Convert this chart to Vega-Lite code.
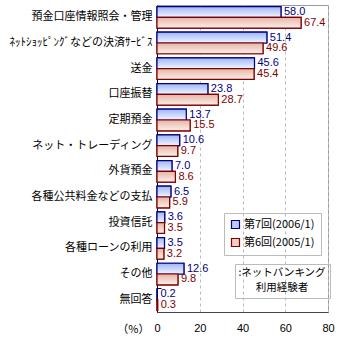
{
"$schema": "https://vega.github.io/schema/vega-lite/v6.json",
"width": 171, "height": 307, "autosize": "none",
"padding": {"left": 157, "top": 5, "right": 12, "bottom": 28},
"config": {"view": {"stroke": "#999"}, "font": "Noto Sans CJK JP"},
"data": {"values": [
{"item": "預金口座情報照会・管理", "series": "第7回(2006/1)", "value": 58.0},
{"item": "預金口座情報照会・管理", "series": "第6回(2005/1)", "value": 67.4},
{"item": "ﾈｯﾄｼｮｯﾋﾟﾝｸﾞなどの決済ｻｰﾋﾞｽ", "series": "第7回(2006/1)", "value": 51.4},
{"item": "ﾈｯﾄｼｮｯﾋﾟﾝｸﾞなどの決済ｻｰﾋﾞｽ", "series": "第6回(2005/1)", "value": 49.6},
{"item": "送金", "series": "第7回(2006/1)", "value": 45.6},
{"item": "送金", "series": "第6回(2005/1)", "value": 45.4},
{"item": "口座振替", "series": "第7回(2006/1)", "value": 23.8},
{"item": "口座振替", "series": "第6回(2005/1)", "value": 28.7},
{"item": "定期預金", "series": "第7回(2006/1)", "value": 13.7},
{"item": "定期預金", "series": "第6回(2005/1)", "value": 15.5},
{"item": "ネット・トレーディング", "series": "第7回(2006/1)", "value": 10.6},
{"item": "ネット・トレーディング", "series": "第6回(2005/1)", "value": 9.7},
{"item": "外貨預金", "series": "第7回(2006/1)", "value": 7.0},
{"item": "外貨預金", "series": "第6回(2005/1)", "value": 8.6},
{"item": "各種公共料金などの支払", "series": "第7回(2006/1)", "value": 6.5},
{"item": "各種公共料金などの支払", "series": "第6回(2005/1)", "value": 5.9},
{"item": "投資信託", "series": "第7回(2006/1)", "value": 3.6},
{"item": "投資信託", "series": "第6回(2005/1)", "value": 3.5},
{"item": "各種ローンの利用", "series": "第7回(2006/1)", "value": 3.5},
{"item": "各種ローンの利用", "series": "第6回(2005/1)", "value": 3.2},
{"item": "その他", "series": "第7回(2006/1)", "value": 12.6},
{"item": "その他", "series": "第6回(2005/1)", "value": 9.8},
{"item": "無回答", "series": "第7回(2006/1)", "value": 0.2},
{"item": "無回答", "series": "第6回(2005/1)", "value": 0.3}
]},
"encoding": {
  "y": {"field": "item", "type": "nominal", "sort": null,
    "scale": {"paddingInner": 0.16, "paddingOuter": 0.06},
    "axis": {"title": null, "bandPosition": 0, "tickSize": -4, "tickColor": "#000", "domainColor": "#000", "labelPadding": 9, "labelFontSize": 11, "labelColor": "#000", "labelFont": "Noto Sans CJK JP", "labelLimit": 200}},
  "yOffset": {"field": "series", "type": "nominal", "sort": ["第7回(2006/1)", "第6回(2005/1)"], "scale": {"paddingInner": 0, "paddingOuter": 0}},
  "x": {"field": "value", "type": "quantitative", "scale": {"domain": [0, 80], "nice": false},
    "axis": {"values": [0, 20, 40, 60, 80], "title": "（%）", "titleX": -8, "titleY": 11, "titleAlign": "right", "titleBaseline": "top", "titleFontWeight": "normal", "titleFontSize": 11, "titleColor": "#000", "ticks": false, "labelPadding": 10, "labelFontSize": 11, "labelColor": "#000", "labelFont": "Liberation Sans", "domainColor": "#444", "gridColor": "#bbb", "gridDash": [3, 3], "labelFlush": false}}
},
"layer": [
  {"mark": {"type": "bar", "strokeWidth": 1.2},
   "encoding": {
     "fill": {"field": "series", "type": "nominal", "scale": {"domain": ["第7回(2006/1)", "第6回(2005/1)"], "range": ["#bccbf4", "#f0cfc4"]},
       "legend": {"title": null, "orient": "none", "legendX": 67, "legendY": 208, "strokeColor": "#bbb", "padding": 6, "symbolType": "square", "symbolSize": 64, "symbolStrokeWidth": 1.2, "labelFontSize": 11, "labelColor": "#000", "rowPadding": 5, "labelOffset": 3}},
     "stroke": {"field": "series", "type": "nominal", "scale": {"domain": ["第7回(2006/1)", "第6回(2005/1)"], "range": ["#000080", "#800000"]},
       "legend": {"title": null, "orient": "none", "legendX": 67, "legendY": 208, "strokeColor": "#bbb", "padding": 6, "symbolType": "square", "symbolSize": 64, "symbolStrokeWidth": 1.2, "labelFontSize": 11, "labelColor": "#000", "rowPadding": 5, "labelOffset": 3}}}},
  {"transform": [{"filter": "datum.series == '第7回(2006/1)'"}],
   "mark": {"type": "bar", "strokeWidth": 1.2, "stroke": "#000080", "fill": {"gradient": "linear", "x1": 0, "y1": 0, "x2": 0, "y2": 1, "stops": [{"offset": 0, "color": "#9fb6f4"}, {"offset": 1, "color": "#f2f5ff"}]}}},
  {"transform": [{"filter": "datum.series == '第6回(2005/1)'"}],
   "mark": {"type": "bar", "strokeWidth": 1.2, "stroke": "#800000", "fill": {"gradient": "linear", "x1": 0, "y1": 0, "x2": 0, "y2": 1, "stops": [{"offset": 0, "color": "#e8b4a4"}, {"offset": 1, "color": "#fbf0ec"}]}}},
  {"mark": {"type": "text", "align": "left", "dx": 3, "fontSize": 11, "font": "Liberation Sans"},
   "encoding": {"text": {"field": "value", "type": "quantitative", "format": ".1f"},
     "color": {"field": "series", "type": "nominal", "scale": {"domain": ["第7回(2006/1)", "第6回(2005/1)"], "range": ["#000080", "#800000"]}, "legend": null},
     "opacity": {"datum": "note", "type": "nominal", "scale": {"range": [1, 1]},
       "legend": {"title": [":ネットバンキング", "利用経験者"], "titleAlign": "center", "titleAnchor": "middle", "titleFontSize": 10.5, "titleFontWeight": "normal", "titleColor": "#000", "titleLineHeight": 15, "titlePadding": 0, "orient": "none", "legendX": 78, "legendY": 259, "strokeColor": "#bbb", "padding": 4, "labelExpr": "''", "symbolSize": 0, "symbolOpacity": 0, "symbolStrokeWidth": 0, "labelFontSize": 1, "rowPadding": 0}}}}
]
}
